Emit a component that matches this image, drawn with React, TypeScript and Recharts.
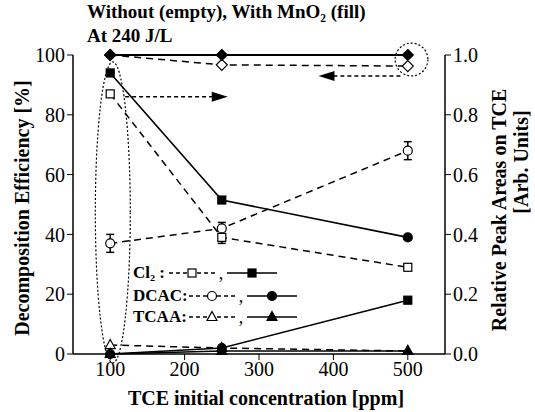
import React from "react";
import {
  ComposedChart,
  Line,
  XAxis,
  YAxis,
  ErrorBar,
  ReferenceArea,
  ReferenceLine
} from "recharts";

// TCE initial concentration [ppm]
const concentrations = [100, 250, 500];

// decomposition efficiency [%] (left axis)
const deEmpty = [100, 96.7, 96.3];
const deFill = [100, 100, 100];

// relative peak areas (right axis), dashed = without, solid = with MnO2
const cl2Empty = [0.87, 0.39, 0.29];
const cl2EmptyErr = [0.01, 0.02, 0.01];
const dcacEmpty = [0.37, 0.42, 0.68];
const dcacEmptyErr = [0.03, 0.02, 0.03];
const tcaaEmpty = [0.03, 0.02, 0.01];
const upperFill = [0.94, 0.515, 0.39];
const upperShapes: Shape[] = ["square", "square", "circle"];
const lowerFill = [0.0, 0.02, 0.18];
const lowerShapes: Shape[] = ["circle", "circle", "square"];
const tcaaFill = [0.0, 0.01, 0.01];

const xTicks = [100, 200, 300, 400, 500];
const leftTicks = [0, 20, 40, 60, 80, 100];
const rightTicks = [0, 0.2, 0.4, 0.6, 0.8, 1.0];

type Shape = "square" | "circle" | "diamond" | "triangle";

const data = concentrations.map((x, i) => ({
  x,
  deEmpty: deEmpty[i],
  deFill: deFill[i],
  cl2Empty: cl2Empty[i],
  cl2EmptyErr: cl2EmptyErr[i],
  dcacEmpty: dcacEmpty[i],
  dcacEmptyErr: dcacEmptyErr[i],
  tcaaEmpty: tcaaEmpty[i],
  upperFill: upperFill[i],
  lowerFill: lowerFill[i],
  tcaaFill: tcaaFill[i]
}));

const FONT = "'Liberation Serif', 'DejaVu Serif', 'Times New Roman', serif";

function Marker({ cx, cy, shape, filled }: { cx: number; cy: number; shape: Shape; filled: boolean }) {
  const fill = filled ? "#000" : "#fff";
  const common = { fill, stroke: "#000", strokeWidth: 1.2 };
  if (shape === "square") return <rect x={cx - 4} y={cy - 4} width={8} height={8} {...common} />;
  if (shape === "circle") return <circle cx={cx} cy={cy} r={4.5} {...common} />;
  if (shape === "diamond")
    return <polygon points={`${cx},${cy - 5.5} ${cx + 5.5},${cy} ${cx},${cy + 5.5} ${cx - 5.5},${cy}`} {...common} />;
  return <polygon points={`${cx},${cy - 5.5} ${cx + 5},${cy + 3.5} ${cx - 5},${cy + 3.5}`} {...common} />;
}

const dots = (shapes: Shape[] | Shape, filled: boolean) => (p: any) => {
  if (p.cx == null || p.cy == null) return <g key={p.index} />;
  const s = Array.isArray(shapes) ? shapes[p.index] : shapes;
  return <Marker key={p.index} cx={p.cx} cy={p.cy} shape={s} filled={filled} />;
};

const arrowShape = (p: any) => {
  const { x1, y1, x2, y2 } = p;
  const dir = x2 > x1 ? 1 : -1;
  return (
    <g>
      <line x1={x1} y1={y1} x2={x2 - dir * 12} y2={y2} stroke="#000" strokeWidth={1.5} strokeDasharray="4 3" />
      <polygon points={`${x2},${y2} ${x2 - dir * 16},${y2 - 5} ${x2 - dir * 16},${y2 + 5}`} fill="#000" />
    </g>
  );
};

const ellipseShape = (p: any) => (
  <ellipse
    cx={p.x + p.width / 2}
    cy={p.y + p.height / 2}
    rx={Math.abs(p.width) / 2}
    ry={Math.abs(p.height) / 2}
    fill="none"
    stroke="#000"
    strokeWidth={1.2}
    strokeDasharray="2 2"
  />
);

const tickStyle = { fontSize: 20, fill: "#000", fontFamily: FONT };

function LegendRow({ label, shape, top, labelW }: { label: React.ReactNode; shape: Shape; top: number; labelW: number }) {
  return (
    <div style={{ position: "absolute", left: 133, top, display: "flex", alignItems: "center", height: 22 }}>
      <span style={{ width: labelW, fontWeight: "bold", fontSize: 17, whiteSpace: "nowrap" }}>{label}</span>
      <svg width={46} height={16}>
        <line x1={0} y1={8} x2={46} y2={8} stroke="#000" strokeWidth={1.3} strokeDasharray="4 3" />
        <Marker cx={23} cy={8} shape={shape} filled={false} />
      </svg>
      <span style={{ fontSize: 18, width: 12, textAlign: "center" }}>,</span>
      <svg width={50} height={16}>
        <line x1={0} y1={8} x2={50} y2={8} stroke="#000" strokeWidth={1.6} />
        <Marker cx={25} cy={8} shape={shape} filled />
      </svg>
    </div>
  );
}

export default function App() {
  return (
    <div style={{ position: "absolute", left: 0, top: 0, width: 535, height: 412, background: "#fff", fontFamily: FONT, color: "#000" }}>
      <ComposedChart width={535} height={412} data={data} margin={{ top: 55, right: 50, bottom: 28, left: 23 }}>
        <XAxis
          dataKey="x"
          type="number"
          domain={[50, 550]}
          ticks={xTicks}
          tick={tickStyle}
          height={30}
          axisLine={{ stroke: "#000", strokeWidth: 1.5 }}
          tickLine={{ stroke: "#000" }}
        />
        <XAxis
          xAxisId="top"
          orientation="top"
          type="number"
          domain={[50, 550]}
          height={0}
          tick={false}
          tickLine={false}
          axisLine={{ stroke: "#000", strokeWidth: 1.5 }}
        />
        <YAxis
          yAxisId="l"
          domain={[0, 100]}
          ticks={leftTicks}
          tick={tickStyle}
          width={50}
          axisLine={{ stroke: "#000", strokeWidth: 1.5 }}
          tickLine={{ stroke: "#000" }}
        />
        <YAxis
          yAxisId="r"
          orientation="right"
          domain={[0, 1]}
          ticks={rightTicks}
          tickFormatter={(v: number) => v.toFixed(1)}
          tick={tickStyle}
          width={40}
          axisLine={{ stroke: "#000", strokeWidth: 1.5 }}
          tickLine={{ stroke: "#000" }}
        />

        {/* annotations */}
        <ReferenceArea yAxisId="r" x1={80} x2={127} y1={-0.03} y2={0.977} ifOverflow="visible" shape={ellipseShape} />
        <ReferenceArea yAxisId="r" x1={483} x2={527} y1={0.93} y2={1.04} ifOverflow="visible" shape={ellipseShape} />
        <ReferenceLine yAxisId="r" segment={[{ x: 120, y: 0.86 }, { x: 258, y: 0.86 }]} ifOverflow="visible" shape={arrowShape} />
        <ReferenceLine yAxisId="r" segment={[{ x: 490, y: 0.93 }, { x: 380, y: 0.93 }]} ifOverflow="visible" shape={arrowShape} />

        {/* dashed: without MnO2 */}
        <Line yAxisId="r" dataKey="cl2Empty" stroke="#000" strokeWidth={1.5} strokeDasharray="7 5" dot={dots("square", false)} isAnimationActive={false}>
          <ErrorBar dataKey="cl2EmptyErr" direction="y" width={4} stroke="#000" />
        </Line>
        <Line yAxisId="r" dataKey="dcacEmpty" stroke="#000" strokeWidth={1.5} strokeDasharray="7 5" dot={dots("circle", false)} isAnimationActive={false}>
          <ErrorBar dataKey="dcacEmptyErr" direction="y" width={4} stroke="#000" />
        </Line>
        <Line yAxisId="r" dataKey="tcaaEmpty" stroke="#000" strokeWidth={1.5} strokeDasharray="7 5" dot={dots("triangle", false)} isAnimationActive={false} />
        <Line yAxisId="l" dataKey="deEmpty" stroke="#000" strokeWidth={1.5} strokeDasharray="7 5" dot={dots("diamond", false)} isAnimationActive={false} />

        {/* solid: with MnO2 */}
        <Line yAxisId="r" dataKey="upperFill" stroke="#000" strokeWidth={1.6} dot={dots(upperShapes, true)} isAnimationActive={false} />
        <Line yAxisId="r" dataKey="lowerFill" stroke="#000" strokeWidth={1.6} dot={dots(lowerShapes, true)} isAnimationActive={false} />
        <Line yAxisId="r" dataKey="tcaaFill" stroke="#000" strokeWidth={1.6} dot={dots("triangle", true)} isAnimationActive={false} />
        <Line yAxisId="l" dataKey="deFill" stroke="#000" strokeWidth={2} dot={dots("diamond", true)} isAnimationActive={false} />
      </ComposedChart>

      {/* title */}
      <div style={{ position: "absolute", left: 87, top: 0, fontWeight: "bold", fontSize: 19, lineHeight: "24px", whiteSpace: "nowrap" }}>
        <div>Without (empty), With MnO₂ (fill)</div>
        <div>At 240 J/L</div>
      </div>

      {/* legend */}
      <LegendRow label="Cl₂ :" shape="square" top={262} labelW={36} />
      <LegendRow label="DCAC:" shape="circle" top={285} labelW={56} />
      <LegendRow label="TCAA:" shape="triangle" top={306} labelW={56} />

      {/* axis titles */}
      <div style={{ position: "absolute", left: 22, top: 208, transform: "translate(-50%, -50%) rotate(-90deg)", fontWeight: "bold", fontSize: 20, whiteSpace: "nowrap" }}>
        Decomposition Efficiency [%]
      </div>
      <div style={{ position: "absolute", left: 499, top: 210, transform: "translate(-50%, -50%) rotate(-90deg)", fontWeight: "bold", fontSize: 20, whiteSpace: "nowrap" }}>
        Relative Peak Areas on TCE
      </div>
      <div style={{ position: "absolute", left: 521, top: 162, transform: "translate(-50%, -50%) rotate(-90deg)", fontWeight: "bold", fontSize: 20, whiteSpace: "nowrap" }}>
        [Arb. Units]
      </div>
      <div style={{ position: "absolute", left: 266, top: 398, transform: "translate(-50%, -50%)", fontWeight: "bold", fontSize: 20, whiteSpace: "nowrap" }}>
        TCE initial concentration [ppm]
      </div>
    </div>
  );
}
